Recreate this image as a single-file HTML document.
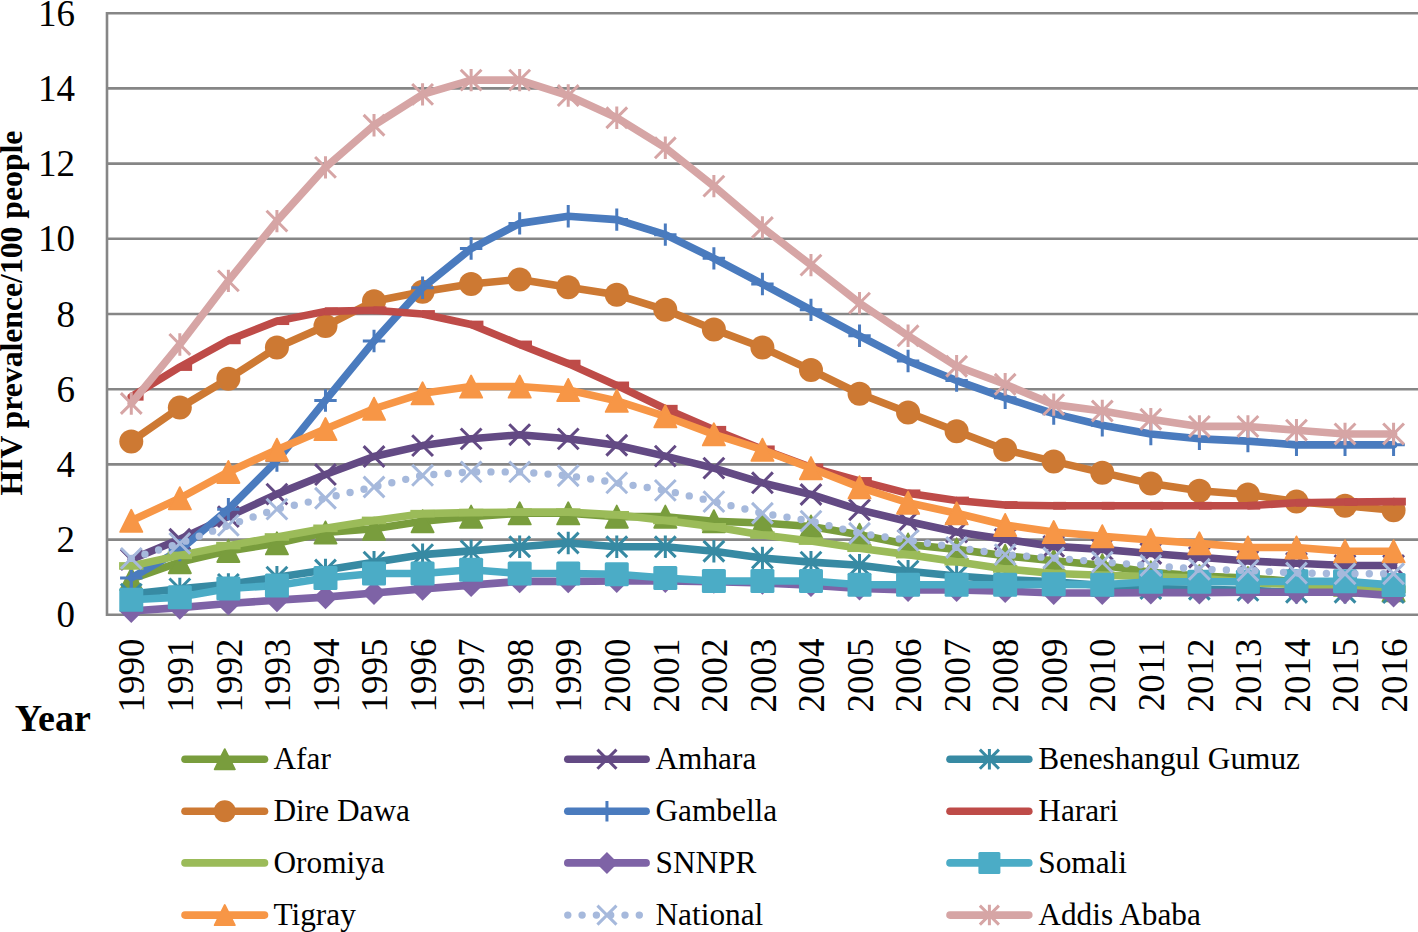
<!DOCTYPE html>
<html><head><meta charset="utf-8"><style>
html,body{margin:0;padding:0;background:#fff;}
body{width:1418px;height:932px;overflow:hidden;}
svg{display:block;}
.ax{font-family:"Liberation Serif",serif;font-size:37px;fill:#000;}
.lg{font-family:"Liberation Serif",serif;font-size:31.3px;fill:#000;}
.ti{font-family:"Liberation Serif",serif;font-weight:bold;fill:#000;}
</style></head><body>
<svg width="1418" height="932" viewBox="0 0 1418 932">
<rect width="1418" height="932" fill="#fff"/>
<line x1="107.0" y1="614.80" x2="1420" y2="614.80" stroke="#868686" stroke-width="2.6"/>
<line x1="107.0" y1="539.60" x2="1420" y2="539.60" stroke="#868686" stroke-width="2.6"/>
<line x1="107.0" y1="464.40" x2="1420" y2="464.40" stroke="#868686" stroke-width="2.6"/>
<line x1="107.0" y1="389.20" x2="1420" y2="389.20" stroke="#868686" stroke-width="2.6"/>
<line x1="107.0" y1="314.00" x2="1420" y2="314.00" stroke="#868686" stroke-width="2.6"/>
<line x1="107.0" y1="238.80" x2="1420" y2="238.80" stroke="#868686" stroke-width="2.6"/>
<line x1="107.0" y1="163.60" x2="1420" y2="163.60" stroke="#868686" stroke-width="2.6"/>
<line x1="107.0" y1="88.40" x2="1420" y2="88.40" stroke="#868686" stroke-width="2.6"/>
<line x1="107.0" y1="13.20" x2="1420" y2="13.20" stroke="#868686" stroke-width="2.6"/>
<line x1="107.00" y1="11.90" x2="107.00" y2="616.10" stroke="#868686" stroke-width="2.6"/>
<polyline points="131.28,579.08 179.82,562.16 228.38,550.88 276.92,543.36 325.48,532.46 374.02,528.70 422.57,521.18 471.12,516.66 519.67,513.28 568.22,513.28 616.77,516.66 665.32,516.66 713.88,521.18 762.42,523.06 810.97,526.44 859.52,534.71 908.07,544.49 956.62,549.38 1005.17,555.77 1053.72,560.66 1102.28,565.17 1150.83,572.31 1199.38,576.07 1247.92,577.95 1296.47,581.71 1345.02,584.72 1393.57,590.36" fill="none" stroke="#799D3D" stroke-width="7.6" stroke-linecap="round" stroke-linejoin="round"/>
<path d="M131.28,567.98L142.38,590.18L120.18,590.18Z" fill="#799D3D" stroke="#799D3D" stroke-width="1.8" stroke-linejoin="round"/>
<path d="M179.82,551.06L190.92,573.26L168.72,573.26Z" fill="#799D3D" stroke="#799D3D" stroke-width="1.8" stroke-linejoin="round"/>
<path d="M228.38,539.78L239.47,561.98L217.28,561.98Z" fill="#799D3D" stroke="#799D3D" stroke-width="1.8" stroke-linejoin="round"/>
<path d="M276.92,532.26L288.02,554.46L265.82,554.46Z" fill="#799D3D" stroke="#799D3D" stroke-width="1.8" stroke-linejoin="round"/>
<path d="M325.48,521.36L336.58,543.56L314.38,543.56Z" fill="#799D3D" stroke="#799D3D" stroke-width="1.8" stroke-linejoin="round"/>
<path d="M374.02,517.60L385.12,539.80L362.92,539.80Z" fill="#799D3D" stroke="#799D3D" stroke-width="1.8" stroke-linejoin="round"/>
<path d="M422.57,510.08L433.68,532.28L411.47,532.28Z" fill="#799D3D" stroke="#799D3D" stroke-width="1.8" stroke-linejoin="round"/>
<path d="M471.12,505.56L482.23,527.76L460.02,527.76Z" fill="#799D3D" stroke="#799D3D" stroke-width="1.8" stroke-linejoin="round"/>
<path d="M519.67,502.18L530.77,524.38L508.57,524.38Z" fill="#799D3D" stroke="#799D3D" stroke-width="1.8" stroke-linejoin="round"/>
<path d="M568.22,502.18L579.32,524.38L557.12,524.38Z" fill="#799D3D" stroke="#799D3D" stroke-width="1.8" stroke-linejoin="round"/>
<path d="M616.77,505.56L627.88,527.76L605.67,527.76Z" fill="#799D3D" stroke="#799D3D" stroke-width="1.8" stroke-linejoin="round"/>
<path d="M665.32,505.56L676.42,527.76L654.22,527.76Z" fill="#799D3D" stroke="#799D3D" stroke-width="1.8" stroke-linejoin="round"/>
<path d="M713.88,510.08L724.98,532.28L702.77,532.28Z" fill="#799D3D" stroke="#799D3D" stroke-width="1.8" stroke-linejoin="round"/>
<path d="M762.42,511.96L773.52,534.16L751.32,534.16Z" fill="#799D3D" stroke="#799D3D" stroke-width="1.8" stroke-linejoin="round"/>
<path d="M810.97,515.34L822.07,537.54L799.87,537.54Z" fill="#799D3D" stroke="#799D3D" stroke-width="1.8" stroke-linejoin="round"/>
<path d="M859.52,523.61L870.62,545.81L848.42,545.81Z" fill="#799D3D" stroke="#799D3D" stroke-width="1.8" stroke-linejoin="round"/>
<path d="M908.07,533.39L919.17,555.59L896.97,555.59Z" fill="#799D3D" stroke="#799D3D" stroke-width="1.8" stroke-linejoin="round"/>
<path d="M956.62,538.28L967.73,560.48L945.52,560.48Z" fill="#799D3D" stroke="#799D3D" stroke-width="1.8" stroke-linejoin="round"/>
<path d="M1005.17,544.67L1016.27,566.87L994.07,566.87Z" fill="#799D3D" stroke="#799D3D" stroke-width="1.8" stroke-linejoin="round"/>
<path d="M1053.72,549.56L1064.82,571.76L1042.62,571.76Z" fill="#799D3D" stroke="#799D3D" stroke-width="1.8" stroke-linejoin="round"/>
<path d="M1102.28,554.07L1113.38,576.27L1091.18,576.27Z" fill="#799D3D" stroke="#799D3D" stroke-width="1.8" stroke-linejoin="round"/>
<path d="M1150.83,561.21L1161.92,583.41L1139.73,583.41Z" fill="#799D3D" stroke="#799D3D" stroke-width="1.8" stroke-linejoin="round"/>
<path d="M1199.38,564.97L1210.47,587.17L1188.28,587.17Z" fill="#799D3D" stroke="#799D3D" stroke-width="1.8" stroke-linejoin="round"/>
<path d="M1247.92,566.85L1259.02,589.05L1236.83,589.05Z" fill="#799D3D" stroke="#799D3D" stroke-width="1.8" stroke-linejoin="round"/>
<path d="M1296.47,570.61L1307.57,592.81L1285.38,592.81Z" fill="#799D3D" stroke="#799D3D" stroke-width="1.8" stroke-linejoin="round"/>
<path d="M1345.02,573.62L1356.12,595.82L1333.92,595.82Z" fill="#799D3D" stroke="#799D3D" stroke-width="1.8" stroke-linejoin="round"/>
<path d="M1393.57,579.26L1404.67,601.46L1382.47,601.46Z" fill="#799D3D" stroke="#799D3D" stroke-width="1.8" stroke-linejoin="round"/>
<polyline points="131.28,559.53 179.82,539.22 228.38,516.66 276.92,494.10 325.48,474.55 374.02,456.50 422.57,445.60 471.12,438.83 519.67,434.70 568.22,438.83 616.77,445.22 665.32,456.13 713.88,468.16 762.42,482.82 810.97,494.48 859.52,509.90 908.07,521.55 956.62,532.08 1005.17,539.22 1053.72,546.37 1102.28,549.38 1150.83,553.51 1199.38,557.27 1247.92,561.03 1296.47,563.29 1345.02,565.54 1393.57,565.54" fill="none" stroke="#634A84" stroke-width="7.6" stroke-linecap="round" stroke-linejoin="round"/>
<path d="M120.88,549.14L141.67,569.92M141.67,549.14L120.88,569.92" stroke="#634A84" stroke-width="3.0" fill="none"/>
<path d="M169.43,528.83L190.22,549.62M190.22,528.83L169.43,549.62" stroke="#634A84" stroke-width="3.0" fill="none"/>
<path d="M217.98,506.27L238.77,527.06M238.77,506.27L217.98,527.06" stroke="#634A84" stroke-width="3.0" fill="none"/>
<path d="M266.53,483.71L287.32,504.50M287.32,483.71L266.53,504.50" stroke="#634A84" stroke-width="3.0" fill="none"/>
<path d="M315.08,464.16L335.87,484.94M335.87,464.16L315.08,484.94" stroke="#634A84" stroke-width="3.0" fill="none"/>
<path d="M363.63,446.11L384.42,466.90M384.42,446.11L363.63,466.90" stroke="#634A84" stroke-width="3.0" fill="none"/>
<path d="M412.18,435.21L432.97,455.99M432.97,435.21L412.18,455.99" stroke="#634A84" stroke-width="3.0" fill="none"/>
<path d="M460.73,428.44L481.52,449.22M481.52,428.44L460.73,449.22" stroke="#634A84" stroke-width="3.0" fill="none"/>
<path d="M509.28,424.30L530.07,445.09M530.07,424.30L509.28,445.09" stroke="#634A84" stroke-width="3.0" fill="none"/>
<path d="M557.83,428.44L578.62,449.22M578.62,428.44L557.83,449.22" stroke="#634A84" stroke-width="3.0" fill="none"/>
<path d="M606.38,434.83L627.17,455.62M627.17,434.83L606.38,455.62" stroke="#634A84" stroke-width="3.0" fill="none"/>
<path d="M654.93,445.74L675.72,466.52M675.72,445.74L654.93,466.52" stroke="#634A84" stroke-width="3.0" fill="none"/>
<path d="M703.48,457.77L724.27,478.55M724.27,457.77L703.48,478.55" stroke="#634A84" stroke-width="3.0" fill="none"/>
<path d="M752.03,472.43L772.82,493.22M772.82,472.43L752.03,493.22" stroke="#634A84" stroke-width="3.0" fill="none"/>
<path d="M800.58,484.09L821.37,504.87M821.37,484.09L800.58,504.87" stroke="#634A84" stroke-width="3.0" fill="none"/>
<path d="M849.13,499.50L869.92,520.29M869.92,499.50L849.13,520.29" stroke="#634A84" stroke-width="3.0" fill="none"/>
<path d="M897.68,511.16L918.47,531.94M918.47,511.16L897.68,531.94" stroke="#634A84" stroke-width="3.0" fill="none"/>
<path d="M946.23,521.69L967.02,542.47M967.02,521.69L946.23,542.47" stroke="#634A84" stroke-width="3.0" fill="none"/>
<path d="M994.78,528.83L1015.57,549.62M1015.57,528.83L994.78,549.62" stroke="#634A84" stroke-width="3.0" fill="none"/>
<path d="M1043.33,535.98L1064.12,556.76M1064.12,535.98L1043.33,556.76" stroke="#634A84" stroke-width="3.0" fill="none"/>
<path d="M1091.88,538.98L1112.67,559.77M1112.67,538.98L1091.88,559.77" stroke="#634A84" stroke-width="3.0" fill="none"/>
<path d="M1140.43,543.12L1161.22,563.90M1161.22,543.12L1140.43,563.90" stroke="#634A84" stroke-width="3.0" fill="none"/>
<path d="M1188.98,546.88L1209.77,567.66M1209.77,546.88L1188.98,567.66" stroke="#634A84" stroke-width="3.0" fill="none"/>
<path d="M1237.53,550.64L1258.32,571.42M1258.32,550.64L1237.53,571.42" stroke="#634A84" stroke-width="3.0" fill="none"/>
<path d="M1286.08,552.90L1306.87,573.68M1306.87,552.90L1286.08,573.68" stroke="#634A84" stroke-width="3.0" fill="none"/>
<path d="M1334.63,555.15L1355.42,575.94M1355.42,555.15L1334.63,575.94" stroke="#634A84" stroke-width="3.0" fill="none"/>
<path d="M1383.18,555.15L1403.97,575.94M1403.97,555.15L1383.18,575.94" stroke="#634A84" stroke-width="3.0" fill="none"/>
<polyline points="131.28,594.12 179.82,588.86 228.38,584.34 276.92,577.20 325.48,570.06 374.02,562.16 422.57,554.64 471.12,550.88 519.67,546.74 568.22,542.98 616.77,546.74 665.32,546.74 713.88,551.26 762.42,558.02 810.97,562.16 859.52,565.17 908.07,571.18 956.62,576.07 1005.17,579.46 1053.72,581.71 1102.28,585.47 1150.83,588.48 1199.38,589.23 1247.92,590.36 1296.47,592.24 1345.02,592.24 1393.57,592.62" fill="none" stroke="#378AA3" stroke-width="7.6" stroke-linecap="round" stroke-linejoin="round"/>
<path d="M120.88,583.73L141.67,604.51M141.67,583.73L120.88,604.51M131.28,582.91L131.28,605.33" stroke="#378AA3" stroke-width="3.0" fill="none"/>
<path d="M169.43,578.46L190.22,599.25M190.22,578.46L169.43,599.25M179.82,577.65L179.82,600.06" stroke="#378AA3" stroke-width="3.0" fill="none"/>
<path d="M217.98,573.95L238.77,594.74M238.77,573.95L217.98,594.74M228.38,573.14L228.38,595.55" stroke="#378AA3" stroke-width="3.0" fill="none"/>
<path d="M266.53,566.81L287.32,587.59M287.32,566.81L266.53,587.59M276.92,565.99L276.92,588.41" stroke="#378AA3" stroke-width="3.0" fill="none"/>
<path d="M315.08,559.66L335.87,580.45M335.87,559.66L315.08,580.45M325.48,558.85L325.48,581.26" stroke="#378AA3" stroke-width="3.0" fill="none"/>
<path d="M363.63,551.77L384.42,572.55M384.42,551.77L363.63,572.55M374.02,550.95L374.02,573.37" stroke="#378AA3" stroke-width="3.0" fill="none"/>
<path d="M412.18,544.25L432.97,565.03M432.97,544.25L412.18,565.03M422.57,543.43L422.57,565.85" stroke="#378AA3" stroke-width="3.0" fill="none"/>
<path d="M460.73,540.49L481.52,561.27M481.52,540.49L460.73,561.27M471.12,539.67L471.12,562.09" stroke="#378AA3" stroke-width="3.0" fill="none"/>
<path d="M509.28,536.35L530.07,557.14M530.07,536.35L509.28,557.14M519.67,535.54L519.67,557.95" stroke="#378AA3" stroke-width="3.0" fill="none"/>
<path d="M557.83,532.59L578.62,553.38M578.62,532.59L557.83,553.38M568.22,531.78L568.22,554.19" stroke="#378AA3" stroke-width="3.0" fill="none"/>
<path d="M606.38,536.35L627.17,557.14M627.17,536.35L606.38,557.14M616.77,535.54L616.77,557.95" stroke="#378AA3" stroke-width="3.0" fill="none"/>
<path d="M654.93,536.35L675.72,557.14M675.72,536.35L654.93,557.14M665.32,535.54L665.32,557.95" stroke="#378AA3" stroke-width="3.0" fill="none"/>
<path d="M703.48,540.86L724.27,561.65M724.27,540.86L703.48,561.65M713.88,540.05L713.88,562.46" stroke="#378AA3" stroke-width="3.0" fill="none"/>
<path d="M752.03,547.63L772.82,568.42M772.82,547.63L752.03,568.42M762.42,546.82L762.42,569.23" stroke="#378AA3" stroke-width="3.0" fill="none"/>
<path d="M800.58,551.77L821.37,572.55M821.37,551.77L800.58,572.55M810.97,550.95L810.97,573.37" stroke="#378AA3" stroke-width="3.0" fill="none"/>
<path d="M849.13,554.78L869.92,575.56M869.92,554.78L849.13,575.56M859.52,553.96L859.52,576.38" stroke="#378AA3" stroke-width="3.0" fill="none"/>
<path d="M897.68,560.79L918.47,581.58M918.47,560.79L897.68,581.58M908.07,559.98L908.07,582.39" stroke="#378AA3" stroke-width="3.0" fill="none"/>
<path d="M946.23,565.68L967.02,586.46M967.02,565.68L946.23,586.46M956.62,564.86L956.62,587.28" stroke="#378AA3" stroke-width="3.0" fill="none"/>
<path d="M994.78,569.06L1015.57,589.85M1015.57,569.06L994.78,589.85M1005.17,568.25L1005.17,590.66" stroke="#378AA3" stroke-width="3.0" fill="none"/>
<path d="M1043.33,571.32L1064.12,592.10M1064.12,571.32L1043.33,592.10M1053.72,570.50L1053.72,592.92" stroke="#378AA3" stroke-width="3.0" fill="none"/>
<path d="M1091.88,575.08L1112.67,595.86M1112.67,575.08L1091.88,595.86M1102.28,574.26L1102.28,596.68" stroke="#378AA3" stroke-width="3.0" fill="none"/>
<path d="M1140.43,578.09L1161.22,598.87M1161.22,578.09L1140.43,598.87M1150.83,577.27L1150.83,599.69" stroke="#378AA3" stroke-width="3.0" fill="none"/>
<path d="M1188.98,578.84L1209.77,599.62M1209.77,578.84L1188.98,599.62M1199.38,578.02L1199.38,600.44" stroke="#378AA3" stroke-width="3.0" fill="none"/>
<path d="M1237.53,579.97L1258.32,600.75M1258.32,579.97L1237.53,600.75M1247.92,579.15L1247.92,601.57" stroke="#378AA3" stroke-width="3.0" fill="none"/>
<path d="M1286.08,581.85L1306.87,602.63M1306.87,581.85L1286.08,602.63M1296.47,581.03L1296.47,603.45" stroke="#378AA3" stroke-width="3.0" fill="none"/>
<path d="M1334.63,581.85L1355.42,602.63M1355.42,581.85L1334.63,602.63M1345.02,581.03L1345.02,603.45" stroke="#378AA3" stroke-width="3.0" fill="none"/>
<path d="M1383.18,582.22L1403.97,603.01M1403.97,582.22L1383.18,603.01M1393.57,581.41L1393.57,603.82" stroke="#378AA3" stroke-width="3.0" fill="none"/>
<polyline points="131.28,441.46 179.82,407.62 228.38,378.67 276.92,347.46 325.48,326.03 374.02,301.22 422.57,291.82 471.12,283.92 519.67,279.41 568.22,287.30 616.77,294.82 665.32,309.86 713.88,329.42 762.42,347.46 810.97,370.02 859.52,393.71 908.07,412.51 956.62,431.31 1005.17,449.74 1053.72,461.39 1102.28,472.67 1150.83,483.58 1199.38,490.72 1247.92,494.48 1296.47,501.62 1345.02,505.76 1393.57,510.27" fill="none" stroke="#CD7933" stroke-width="7.6" stroke-linecap="round" stroke-linejoin="round"/>
<circle cx="131.28" cy="441.46" r="12.00" fill="#CD7933"/>
<circle cx="179.82" cy="407.62" r="12.00" fill="#CD7933"/>
<circle cx="228.38" cy="378.67" r="12.00" fill="#CD7933"/>
<circle cx="276.92" cy="347.46" r="12.00" fill="#CD7933"/>
<circle cx="325.48" cy="326.03" r="12.00" fill="#CD7933"/>
<circle cx="374.02" cy="301.22" r="12.00" fill="#CD7933"/>
<circle cx="422.57" cy="291.82" r="12.00" fill="#CD7933"/>
<circle cx="471.12" cy="283.92" r="12.00" fill="#CD7933"/>
<circle cx="519.67" cy="279.41" r="12.00" fill="#CD7933"/>
<circle cx="568.22" cy="287.30" r="12.00" fill="#CD7933"/>
<circle cx="616.77" cy="294.82" r="12.00" fill="#CD7933"/>
<circle cx="665.32" cy="309.86" r="12.00" fill="#CD7933"/>
<circle cx="713.88" cy="329.42" r="12.00" fill="#CD7933"/>
<circle cx="762.42" cy="347.46" r="12.00" fill="#CD7933"/>
<circle cx="810.97" cy="370.02" r="12.00" fill="#CD7933"/>
<circle cx="859.52" cy="393.71" r="12.00" fill="#CD7933"/>
<circle cx="908.07" cy="412.51" r="12.00" fill="#CD7933"/>
<circle cx="956.62" cy="431.31" r="12.00" fill="#CD7933"/>
<circle cx="1005.17" cy="449.74" r="12.00" fill="#CD7933"/>
<circle cx="1053.72" cy="461.39" r="12.00" fill="#CD7933"/>
<circle cx="1102.28" cy="472.67" r="12.00" fill="#CD7933"/>
<circle cx="1150.83" cy="483.58" r="12.00" fill="#CD7933"/>
<circle cx="1199.38" cy="490.72" r="12.00" fill="#CD7933"/>
<circle cx="1247.92" cy="494.48" r="12.00" fill="#CD7933"/>
<circle cx="1296.47" cy="501.62" r="12.00" fill="#CD7933"/>
<circle cx="1345.02" cy="505.76" r="12.00" fill="#CD7933"/>
<circle cx="1393.57" cy="510.27" r="12.00" fill="#CD7933"/>
<polyline points="131.28,577.95 179.82,550.13 228.38,509.14 276.92,460.64 325.48,400.48 374.02,341.07 422.57,287.68 471.12,248.58 519.67,223.38 568.22,216.24 616.77,219.62 665.32,234.66 713.88,258.35 762.42,283.92 810.97,309.86 859.52,335.81 908.07,361.00 956.62,380.55 1005.17,397.85 1053.72,413.64 1102.28,425.30 1150.83,433.94 1199.38,438.83 1247.92,441.09 1296.47,444.85 1345.02,444.85 1393.57,444.85" fill="none" stroke="#4A7BBE" stroke-width="7.6" stroke-linecap="round" stroke-linejoin="round"/>
<path d="M131.28,566.74L131.28,589.16M120.07,577.95L142.48,577.95" stroke="#4A7BBE" stroke-width="3.0" fill="none"/>
<path d="M179.82,538.92L179.82,561.34M168.62,550.13L191.03,550.13" stroke="#4A7BBE" stroke-width="3.0" fill="none"/>
<path d="M228.38,497.94L228.38,520.35M217.17,509.14L239.58,509.14" stroke="#4A7BBE" stroke-width="3.0" fill="none"/>
<path d="M276.92,449.43L276.92,471.85M265.72,460.64L288.13,460.64" stroke="#4A7BBE" stroke-width="3.0" fill="none"/>
<path d="M325.48,389.27L325.48,411.69M314.27,400.48L336.68,400.48" stroke="#4A7BBE" stroke-width="3.0" fill="none"/>
<path d="M374.02,329.86L374.02,352.28M362.82,341.07L385.23,341.07" stroke="#4A7BBE" stroke-width="3.0" fill="none"/>
<path d="M422.57,276.47L422.57,298.89M411.37,287.68L433.78,287.68" stroke="#4A7BBE" stroke-width="3.0" fill="none"/>
<path d="M471.12,237.37L471.12,259.78M459.92,248.58L482.33,248.58" stroke="#4A7BBE" stroke-width="3.0" fill="none"/>
<path d="M519.67,212.18L519.67,234.59M508.47,223.38L530.88,223.38" stroke="#4A7BBE" stroke-width="3.0" fill="none"/>
<path d="M568.22,205.03L568.22,227.45M557.02,216.24L579.43,216.24" stroke="#4A7BBE" stroke-width="3.0" fill="none"/>
<path d="M616.77,208.42L616.77,230.83M605.57,219.62L627.98,219.62" stroke="#4A7BBE" stroke-width="3.0" fill="none"/>
<path d="M665.32,223.46L665.32,245.87M654.12,234.66L676.53,234.66" stroke="#4A7BBE" stroke-width="3.0" fill="none"/>
<path d="M713.88,247.14L713.88,269.56M702.67,258.35L725.08,258.35" stroke="#4A7BBE" stroke-width="3.0" fill="none"/>
<path d="M762.42,272.71L762.42,295.13M751.22,283.92L773.63,283.92" stroke="#4A7BBE" stroke-width="3.0" fill="none"/>
<path d="M810.97,298.66L810.97,321.07M799.77,309.86L822.18,309.86" stroke="#4A7BBE" stroke-width="3.0" fill="none"/>
<path d="M859.52,324.60L859.52,347.02M848.32,335.81L870.73,335.81" stroke="#4A7BBE" stroke-width="3.0" fill="none"/>
<path d="M908.07,349.79L908.07,372.21M896.87,361.00L919.28,361.00" stroke="#4A7BBE" stroke-width="3.0" fill="none"/>
<path d="M956.62,369.34L956.62,391.76M945.42,380.55L967.83,380.55" stroke="#4A7BBE" stroke-width="3.0" fill="none"/>
<path d="M1005.17,386.64L1005.17,409.06M993.97,397.85L1016.38,397.85" stroke="#4A7BBE" stroke-width="3.0" fill="none"/>
<path d="M1053.72,402.43L1053.72,424.85M1042.52,413.64L1064.93,413.64" stroke="#4A7BBE" stroke-width="3.0" fill="none"/>
<path d="M1102.28,414.09L1102.28,436.50M1091.07,425.30L1113.48,425.30" stroke="#4A7BBE" stroke-width="3.0" fill="none"/>
<path d="M1150.83,422.74L1150.83,445.15M1139.62,433.94L1162.03,433.94" stroke="#4A7BBE" stroke-width="3.0" fill="none"/>
<path d="M1199.38,427.62L1199.38,450.04M1188.17,438.83L1210.58,438.83" stroke="#4A7BBE" stroke-width="3.0" fill="none"/>
<path d="M1247.92,429.88L1247.92,452.30M1236.72,441.09L1259.13,441.09" stroke="#4A7BBE" stroke-width="3.0" fill="none"/>
<path d="M1296.47,433.64L1296.47,456.06M1285.27,444.85L1307.68,444.85" stroke="#4A7BBE" stroke-width="3.0" fill="none"/>
<path d="M1345.02,433.64L1345.02,456.06M1333.82,444.85L1356.23,444.85" stroke="#4A7BBE" stroke-width="3.0" fill="none"/>
<path d="M1393.57,433.64L1393.57,456.06M1382.37,444.85L1404.78,444.85" stroke="#4A7BBE" stroke-width="3.0" fill="none"/>
<polyline points="131.28,396.72 179.82,367.02 228.38,340.32 276.92,321.14 325.48,311.37 374.02,310.24 422.57,314.00 471.12,324.53 519.67,344.46 568.22,363.63 616.77,385.44 665.32,408.75 713.88,429.81 762.42,449.36 810.97,467.41 859.52,480.94 908.07,493.35 956.62,500.50 1005.17,505.01 1053.72,505.76 1102.28,505.76 1150.83,505.76 1199.38,505.76 1247.92,505.76 1296.47,502.75 1345.02,502.00 1393.57,501.62" fill="none" stroke="#BE4B48" stroke-width="7.6" stroke-linecap="round" stroke-linejoin="round"/>
<rect x="130.78" y="392.82" width="12.8" height="7.8" fill="#BE4B48"/>
<rect x="179.32" y="363.12" width="12.8" height="7.8" fill="#BE4B48"/>
<rect x="227.88" y="336.42" width="12.8" height="7.8" fill="#BE4B48"/>
<rect x="276.42" y="317.24" width="12.8" height="7.8" fill="#BE4B48"/>
<rect x="324.98" y="307.47" width="12.8" height="7.8" fill="#BE4B48"/>
<rect x="373.52" y="306.34" width="12.8" height="7.8" fill="#BE4B48"/>
<rect x="422.07" y="310.10" width="12.8" height="7.8" fill="#BE4B48"/>
<rect x="470.62" y="320.63" width="12.8" height="7.8" fill="#BE4B48"/>
<rect x="519.17" y="340.56" width="12.8" height="7.8" fill="#BE4B48"/>
<rect x="567.72" y="359.73" width="12.8" height="7.8" fill="#BE4B48"/>
<rect x="616.27" y="381.54" width="12.8" height="7.8" fill="#BE4B48"/>
<rect x="664.82" y="404.85" width="12.8" height="7.8" fill="#BE4B48"/>
<rect x="713.38" y="425.91" width="12.8" height="7.8" fill="#BE4B48"/>
<rect x="761.92" y="445.46" width="12.8" height="7.8" fill="#BE4B48"/>
<rect x="810.47" y="463.51" width="12.8" height="7.8" fill="#BE4B48"/>
<rect x="859.02" y="477.04" width="12.8" height="7.8" fill="#BE4B48"/>
<rect x="907.57" y="489.45" width="12.8" height="7.8" fill="#BE4B48"/>
<rect x="956.12" y="496.60" width="12.8" height="7.8" fill="#BE4B48"/>
<rect x="1004.67" y="501.11" width="12.8" height="7.8" fill="#BE4B48"/>
<rect x="1053.22" y="501.86" width="12.8" height="7.8" fill="#BE4B48"/>
<rect x="1101.78" y="501.86" width="12.8" height="7.8" fill="#BE4B48"/>
<rect x="1150.33" y="501.86" width="12.8" height="7.8" fill="#BE4B48"/>
<rect x="1198.88" y="501.86" width="12.8" height="7.8" fill="#BE4B48"/>
<rect x="1247.42" y="501.86" width="12.8" height="7.8" fill="#BE4B48"/>
<rect x="1295.97" y="498.85" width="12.8" height="7.8" fill="#BE4B48"/>
<rect x="1344.52" y="498.10" width="12.8" height="7.8" fill="#BE4B48"/>
<rect x="1393.07" y="497.72" width="12.8" height="7.8" fill="#BE4B48"/>
<polyline points="131.28,565.92 179.82,555.39 228.38,545.62 276.92,536.97 325.48,528.32 374.02,520.42 422.57,513.66 471.12,512.53 519.67,512.15 568.22,512.15 616.77,514.78 665.32,520.42 713.88,526.82 762.42,535.09 810.97,541.10 859.52,548.25 908.07,554.64 956.62,561.78 1005.17,568.93 1053.72,573.44 1102.28,575.32 1150.83,576.45 1199.38,577.95 1247.92,582.46 1296.47,584.72 1345.02,586.98 1393.57,589.23" fill="none" stroke="#9BBB59" stroke-width="7.6" stroke-linecap="round" stroke-linejoin="round"/>
<rect x="119.08" y="562.12" width="24.4" height="7.6" fill="#9BBB59"/>
<rect x="167.62" y="551.59" width="24.4" height="7.6" fill="#9BBB59"/>
<rect x="216.18" y="541.82" width="24.4" height="7.6" fill="#9BBB59"/>
<rect x="264.72" y="533.17" width="24.4" height="7.6" fill="#9BBB59"/>
<rect x="313.28" y="524.52" width="24.4" height="7.6" fill="#9BBB59"/>
<rect x="361.82" y="516.62" width="24.4" height="7.6" fill="#9BBB59"/>
<rect x="410.38" y="509.86" width="24.4" height="7.6" fill="#9BBB59"/>
<rect x="458.93" y="508.73" width="24.4" height="7.6" fill="#9BBB59"/>
<rect x="507.47" y="508.35" width="24.4" height="7.6" fill="#9BBB59"/>
<rect x="556.02" y="508.35" width="24.4" height="7.6" fill="#9BBB59"/>
<rect x="604.57" y="510.98" width="24.4" height="7.6" fill="#9BBB59"/>
<rect x="653.12" y="516.62" width="24.4" height="7.6" fill="#9BBB59"/>
<rect x="701.67" y="523.02" width="24.4" height="7.6" fill="#9BBB59"/>
<rect x="750.22" y="531.29" width="24.4" height="7.6" fill="#9BBB59"/>
<rect x="798.77" y="537.30" width="24.4" height="7.6" fill="#9BBB59"/>
<rect x="847.32" y="544.45" width="24.4" height="7.6" fill="#9BBB59"/>
<rect x="895.87" y="550.84" width="24.4" height="7.6" fill="#9BBB59"/>
<rect x="944.42" y="557.98" width="24.4" height="7.6" fill="#9BBB59"/>
<rect x="992.97" y="565.13" width="24.4" height="7.6" fill="#9BBB59"/>
<rect x="1041.52" y="569.64" width="24.4" height="7.6" fill="#9BBB59"/>
<rect x="1090.08" y="571.52" width="24.4" height="7.6" fill="#9BBB59"/>
<rect x="1138.62" y="572.65" width="24.4" height="7.6" fill="#9BBB59"/>
<rect x="1187.17" y="574.15" width="24.4" height="7.6" fill="#9BBB59"/>
<rect x="1235.72" y="578.66" width="24.4" height="7.6" fill="#9BBB59"/>
<rect x="1284.27" y="580.92" width="24.4" height="7.6" fill="#9BBB59"/>
<rect x="1332.82" y="583.18" width="24.4" height="7.6" fill="#9BBB59"/>
<rect x="1381.37" y="585.43" width="24.4" height="7.6" fill="#9BBB59"/>
<polyline points="131.28,611.04 179.82,607.66 228.38,603.52 276.92,600.14 325.48,597.13 374.02,592.99 422.57,588.86 471.12,585.10 519.67,581.34 568.22,581.34 616.77,580.96 665.32,580.96 713.88,581.71 762.42,582.84 810.97,585.10 859.52,588.48 908.07,589.98 956.62,589.98 1005.17,591.11 1053.72,592.99 1102.28,592.99 1150.83,592.62 1199.38,592.62 1247.92,592.24 1296.47,592.24 1345.02,592.24 1393.57,595.62" fill="none" stroke="#7E63A6" stroke-width="7.6" stroke-linecap="round" stroke-linejoin="round"/>
<path d="M131.28,599.04L143.28,611.04L131.28,623.04L119.28,611.04Z" fill="#7E63A6"/>
<path d="M179.82,595.66L191.82,607.66L179.82,619.66L167.82,607.66Z" fill="#7E63A6"/>
<path d="M228.38,591.52L240.38,603.52L228.38,615.52L216.38,603.52Z" fill="#7E63A6"/>
<path d="M276.92,588.14L288.92,600.14L276.92,612.14L264.92,600.14Z" fill="#7E63A6"/>
<path d="M325.48,585.13L337.48,597.13L325.48,609.13L313.48,597.13Z" fill="#7E63A6"/>
<path d="M374.02,580.99L386.02,592.99L374.02,604.99L362.02,592.99Z" fill="#7E63A6"/>
<path d="M422.57,576.86L434.57,588.86L422.57,600.86L410.57,588.86Z" fill="#7E63A6"/>
<path d="M471.12,573.10L483.12,585.10L471.12,597.10L459.12,585.10Z" fill="#7E63A6"/>
<path d="M519.67,569.34L531.67,581.34L519.67,593.34L507.67,581.34Z" fill="#7E63A6"/>
<path d="M568.22,569.34L580.22,581.34L568.22,593.34L556.22,581.34Z" fill="#7E63A6"/>
<path d="M616.77,568.96L628.77,580.96L616.77,592.96L604.77,580.96Z" fill="#7E63A6"/>
<path d="M665.32,568.96L677.32,580.96L665.32,592.96L653.32,580.96Z" fill="#7E63A6"/>
<path d="M713.88,569.71L725.88,581.71L713.88,593.71L701.88,581.71Z" fill="#7E63A6"/>
<path d="M762.42,570.84L774.42,582.84L762.42,594.84L750.42,582.84Z" fill="#7E63A6"/>
<path d="M810.97,573.10L822.97,585.10L810.97,597.10L798.97,585.10Z" fill="#7E63A6"/>
<path d="M859.52,576.48L871.52,588.48L859.52,600.48L847.52,588.48Z" fill="#7E63A6"/>
<path d="M908.07,577.98L920.07,589.98L908.07,601.98L896.07,589.98Z" fill="#7E63A6"/>
<path d="M956.62,577.98L968.62,589.98L956.62,601.98L944.62,589.98Z" fill="#7E63A6"/>
<path d="M1005.17,579.11L1017.17,591.11L1005.17,603.11L993.17,591.11Z" fill="#7E63A6"/>
<path d="M1053.72,580.99L1065.72,592.99L1053.72,604.99L1041.72,592.99Z" fill="#7E63A6"/>
<path d="M1102.28,580.99L1114.28,592.99L1102.28,604.99L1090.28,592.99Z" fill="#7E63A6"/>
<path d="M1150.83,580.62L1162.83,592.62L1150.83,604.62L1138.83,592.62Z" fill="#7E63A6"/>
<path d="M1199.38,580.62L1211.38,592.62L1199.38,604.62L1187.38,592.62Z" fill="#7E63A6"/>
<path d="M1247.92,580.24L1259.92,592.24L1247.92,604.24L1235.92,592.24Z" fill="#7E63A6"/>
<path d="M1296.47,580.24L1308.47,592.24L1296.47,604.24L1284.47,592.24Z" fill="#7E63A6"/>
<path d="M1345.02,580.24L1357.02,592.24L1345.02,604.24L1333.02,592.24Z" fill="#7E63A6"/>
<path d="M1393.57,583.62L1405.57,595.62L1393.57,607.62L1381.57,595.62Z" fill="#7E63A6"/>
<polyline points="131.28,599.76 179.82,597.13 228.38,588.48 276.92,585.47 325.48,577.95 374.02,573.44 422.57,573.44 471.12,569.68 519.67,573.44 568.22,573.44 616.77,574.19 665.32,577.95 713.88,580.96 762.42,580.96 810.97,580.96 859.52,584.72 908.07,584.72 956.62,584.72 1005.17,584.72 1053.72,584.34 1102.28,584.72 1150.83,581.71 1199.38,581.71 1247.92,581.71 1296.47,581.34 1345.02,581.34 1393.57,585.10" fill="none" stroke="#4BACC6" stroke-width="7.6" stroke-linecap="round" stroke-linejoin="round"/>
<rect x="119.28" y="587.76" width="24.00" height="24.00" rx="1.5" fill="#4BACC6"/>
<rect x="167.82" y="585.13" width="24.00" height="24.00" rx="1.5" fill="#4BACC6"/>
<rect x="216.38" y="576.48" width="24.00" height="24.00" rx="1.5" fill="#4BACC6"/>
<rect x="264.92" y="573.47" width="24.00" height="24.00" rx="1.5" fill="#4BACC6"/>
<rect x="313.48" y="565.95" width="24.00" height="24.00" rx="1.5" fill="#4BACC6"/>
<rect x="362.02" y="561.44" width="24.00" height="24.00" rx="1.5" fill="#4BACC6"/>
<rect x="410.57" y="561.44" width="24.00" height="24.00" rx="1.5" fill="#4BACC6"/>
<rect x="459.12" y="557.68" width="24.00" height="24.00" rx="1.5" fill="#4BACC6"/>
<rect x="507.67" y="561.44" width="24.00" height="24.00" rx="1.5" fill="#4BACC6"/>
<rect x="556.22" y="561.44" width="24.00" height="24.00" rx="1.5" fill="#4BACC6"/>
<rect x="604.77" y="562.19" width="24.00" height="24.00" rx="1.5" fill="#4BACC6"/>
<rect x="653.32" y="565.95" width="24.00" height="24.00" rx="1.5" fill="#4BACC6"/>
<rect x="701.88" y="568.96" width="24.00" height="24.00" rx="1.5" fill="#4BACC6"/>
<rect x="750.42" y="568.96" width="24.00" height="24.00" rx="1.5" fill="#4BACC6"/>
<rect x="798.97" y="568.96" width="24.00" height="24.00" rx="1.5" fill="#4BACC6"/>
<rect x="847.52" y="572.72" width="24.00" height="24.00" rx="1.5" fill="#4BACC6"/>
<rect x="896.07" y="572.72" width="24.00" height="24.00" rx="1.5" fill="#4BACC6"/>
<rect x="944.62" y="572.72" width="24.00" height="24.00" rx="1.5" fill="#4BACC6"/>
<rect x="993.17" y="572.72" width="24.00" height="24.00" rx="1.5" fill="#4BACC6"/>
<rect x="1041.72" y="572.34" width="24.00" height="24.00" rx="1.5" fill="#4BACC6"/>
<rect x="1090.28" y="572.72" width="24.00" height="24.00" rx="1.5" fill="#4BACC6"/>
<rect x="1138.83" y="569.71" width="24.00" height="24.00" rx="1.5" fill="#4BACC6"/>
<rect x="1187.38" y="569.71" width="24.00" height="24.00" rx="1.5" fill="#4BACC6"/>
<rect x="1235.92" y="569.71" width="24.00" height="24.00" rx="1.5" fill="#4BACC6"/>
<rect x="1284.47" y="569.34" width="24.00" height="24.00" rx="1.5" fill="#4BACC6"/>
<rect x="1333.02" y="569.34" width="24.00" height="24.00" rx="1.5" fill="#4BACC6"/>
<rect x="1381.57" y="573.10" width="24.00" height="24.00" rx="1.5" fill="#4BACC6"/>
<polyline points="131.28,520.80 179.82,498.24 228.38,471.92 276.92,449.74 325.48,429.06 374.02,408.75 422.57,393.34 471.12,386.57 519.67,386.57 568.22,389.95 616.77,400.86 665.32,416.27 713.88,434.32 762.42,449.74 810.97,468.16 859.52,487.34 908.07,502.75 956.62,513.28 1005.17,524.94 1053.72,532.08 1102.28,536.22 1150.83,539.98 1199.38,543.36 1247.92,547.50 1296.47,547.50 1345.02,551.26 1393.57,551.26" fill="none" stroke="#F79646" stroke-width="7.6" stroke-linecap="round" stroke-linejoin="round"/>
<path d="M131.28,509.70L142.38,531.90L120.18,531.90Z" fill="#F79646" stroke="#F79646" stroke-width="1.8" stroke-linejoin="round"/>
<path d="M179.82,487.14L190.92,509.34L168.72,509.34Z" fill="#F79646" stroke="#F79646" stroke-width="1.8" stroke-linejoin="round"/>
<path d="M228.38,460.82L239.47,483.02L217.28,483.02Z" fill="#F79646" stroke="#F79646" stroke-width="1.8" stroke-linejoin="round"/>
<path d="M276.92,438.64L288.02,460.84L265.82,460.84Z" fill="#F79646" stroke="#F79646" stroke-width="1.8" stroke-linejoin="round"/>
<path d="M325.48,417.96L336.58,440.16L314.38,440.16Z" fill="#F79646" stroke="#F79646" stroke-width="1.8" stroke-linejoin="round"/>
<path d="M374.02,397.65L385.12,419.85L362.92,419.85Z" fill="#F79646" stroke="#F79646" stroke-width="1.8" stroke-linejoin="round"/>
<path d="M422.57,382.24L433.68,404.44L411.47,404.44Z" fill="#F79646" stroke="#F79646" stroke-width="1.8" stroke-linejoin="round"/>
<path d="M471.12,375.47L482.23,397.67L460.02,397.67Z" fill="#F79646" stroke="#F79646" stroke-width="1.8" stroke-linejoin="round"/>
<path d="M519.67,375.47L530.77,397.67L508.57,397.67Z" fill="#F79646" stroke="#F79646" stroke-width="1.8" stroke-linejoin="round"/>
<path d="M568.22,378.85L579.32,401.05L557.12,401.05Z" fill="#F79646" stroke="#F79646" stroke-width="1.8" stroke-linejoin="round"/>
<path d="M616.77,389.76L627.88,411.96L605.67,411.96Z" fill="#F79646" stroke="#F79646" stroke-width="1.8" stroke-linejoin="round"/>
<path d="M665.32,405.17L676.42,427.37L654.22,427.37Z" fill="#F79646" stroke="#F79646" stroke-width="1.8" stroke-linejoin="round"/>
<path d="M713.88,423.22L724.98,445.42L702.77,445.42Z" fill="#F79646" stroke="#F79646" stroke-width="1.8" stroke-linejoin="round"/>
<path d="M762.42,438.64L773.52,460.84L751.32,460.84Z" fill="#F79646" stroke="#F79646" stroke-width="1.8" stroke-linejoin="round"/>
<path d="M810.97,457.06L822.07,479.26L799.87,479.26Z" fill="#F79646" stroke="#F79646" stroke-width="1.8" stroke-linejoin="round"/>
<path d="M859.52,476.24L870.62,498.44L848.42,498.44Z" fill="#F79646" stroke="#F79646" stroke-width="1.8" stroke-linejoin="round"/>
<path d="M908.07,491.65L919.17,513.85L896.97,513.85Z" fill="#F79646" stroke="#F79646" stroke-width="1.8" stroke-linejoin="round"/>
<path d="M956.62,502.18L967.73,524.38L945.52,524.38Z" fill="#F79646" stroke="#F79646" stroke-width="1.8" stroke-linejoin="round"/>
<path d="M1005.17,513.84L1016.27,536.04L994.07,536.04Z" fill="#F79646" stroke="#F79646" stroke-width="1.8" stroke-linejoin="round"/>
<path d="M1053.72,520.98L1064.82,543.18L1042.62,543.18Z" fill="#F79646" stroke="#F79646" stroke-width="1.8" stroke-linejoin="round"/>
<path d="M1102.28,525.12L1113.38,547.32L1091.18,547.32Z" fill="#F79646" stroke="#F79646" stroke-width="1.8" stroke-linejoin="round"/>
<path d="M1150.83,528.88L1161.92,551.08L1139.73,551.08Z" fill="#F79646" stroke="#F79646" stroke-width="1.8" stroke-linejoin="round"/>
<path d="M1199.38,532.26L1210.47,554.46L1188.28,554.46Z" fill="#F79646" stroke="#F79646" stroke-width="1.8" stroke-linejoin="round"/>
<path d="M1247.92,536.40L1259.02,558.60L1236.83,558.60Z" fill="#F79646" stroke="#F79646" stroke-width="1.8" stroke-linejoin="round"/>
<path d="M1296.47,536.40L1307.57,558.60L1285.38,558.60Z" fill="#F79646" stroke="#F79646" stroke-width="1.8" stroke-linejoin="round"/>
<path d="M1345.02,540.16L1356.12,562.36L1333.92,562.36Z" fill="#F79646" stroke="#F79646" stroke-width="1.8" stroke-linejoin="round"/>
<path d="M1393.57,540.16L1404.67,562.36L1382.47,562.36Z" fill="#F79646" stroke="#F79646" stroke-width="1.8" stroke-linejoin="round"/>
<polyline points="131.28,558.40 179.82,543.36 228.38,525.31 276.92,509.14 325.48,498.24 374.02,486.96 422.57,475.30 471.12,471.92 519.67,471.92 568.22,475.68 616.77,482.82 665.32,490.34 713.88,501.62 762.42,513.28 810.97,521.18 859.52,533.21 908.07,540.35 956.62,547.50 1005.17,554.64 1053.72,558.02 1102.28,562.16 1150.83,565.54 1199.38,569.30 1247.92,570.43 1296.47,573.06 1345.02,573.82 1393.57,573.82" fill="none" stroke="#A6B9DC" stroke-width="7.4" stroke-linecap="round" stroke-linejoin="round" stroke-dasharray="0 14.3"/>
<path d="M120.88,548.01L141.67,568.79M141.67,548.01L120.88,568.79" stroke="#A6B9DC" stroke-width="3.0" fill="none"/>
<path d="M169.43,532.97L190.22,553.75M190.22,532.97L169.43,553.75" stroke="#A6B9DC" stroke-width="3.0" fill="none"/>
<path d="M217.98,514.92L238.77,535.70M238.77,514.92L217.98,535.70" stroke="#A6B9DC" stroke-width="3.0" fill="none"/>
<path d="M266.53,498.75L287.32,519.54M287.32,498.75L266.53,519.54" stroke="#A6B9DC" stroke-width="3.0" fill="none"/>
<path d="M315.08,487.85L335.87,508.63M335.87,487.85L315.08,508.63" stroke="#A6B9DC" stroke-width="3.0" fill="none"/>
<path d="M363.63,476.57L384.42,497.35M384.42,476.57L363.63,497.35" stroke="#A6B9DC" stroke-width="3.0" fill="none"/>
<path d="M412.18,464.91L432.97,485.70M432.97,464.91L412.18,485.70" stroke="#A6B9DC" stroke-width="3.0" fill="none"/>
<path d="M460.73,461.53L481.52,482.31M481.52,461.53L460.73,482.31" stroke="#A6B9DC" stroke-width="3.0" fill="none"/>
<path d="M509.28,461.53L530.07,482.31M530.07,461.53L509.28,482.31" stroke="#A6B9DC" stroke-width="3.0" fill="none"/>
<path d="M557.83,465.29L578.62,486.07M578.62,465.29L557.83,486.07" stroke="#A6B9DC" stroke-width="3.0" fill="none"/>
<path d="M606.38,472.43L627.17,493.22M627.17,472.43L606.38,493.22" stroke="#A6B9DC" stroke-width="3.0" fill="none"/>
<path d="M654.93,479.95L675.72,500.74M675.72,479.95L654.93,500.74" stroke="#A6B9DC" stroke-width="3.0" fill="none"/>
<path d="M703.48,491.23L724.27,512.02M724.27,491.23L703.48,512.02" stroke="#A6B9DC" stroke-width="3.0" fill="none"/>
<path d="M752.03,502.89L772.82,523.67M772.82,502.89L752.03,523.67" stroke="#A6B9DC" stroke-width="3.0" fill="none"/>
<path d="M800.58,510.78L821.37,531.57M821.37,510.78L800.58,531.57" stroke="#A6B9DC" stroke-width="3.0" fill="none"/>
<path d="M849.13,522.82L869.92,543.60M869.92,522.82L849.13,543.60" stroke="#A6B9DC" stroke-width="3.0" fill="none"/>
<path d="M897.68,529.96L918.47,550.74M918.47,529.96L897.68,550.74" stroke="#A6B9DC" stroke-width="3.0" fill="none"/>
<path d="M946.23,537.10L967.02,557.89M967.02,537.10L946.23,557.89" stroke="#A6B9DC" stroke-width="3.0" fill="none"/>
<path d="M994.78,544.25L1015.57,565.03M1015.57,544.25L994.78,565.03" stroke="#A6B9DC" stroke-width="3.0" fill="none"/>
<path d="M1043.33,547.63L1064.12,568.42M1064.12,547.63L1043.33,568.42" stroke="#A6B9DC" stroke-width="3.0" fill="none"/>
<path d="M1091.88,551.77L1112.67,572.55M1112.67,551.77L1091.88,572.55" stroke="#A6B9DC" stroke-width="3.0" fill="none"/>
<path d="M1140.43,555.15L1161.22,575.94M1161.22,555.15L1140.43,575.94" stroke="#A6B9DC" stroke-width="3.0" fill="none"/>
<path d="M1188.98,558.91L1209.77,579.70M1209.77,558.91L1188.98,579.70" stroke="#A6B9DC" stroke-width="3.0" fill="none"/>
<path d="M1237.53,560.04L1258.32,580.82M1258.32,560.04L1237.53,580.82" stroke="#A6B9DC" stroke-width="3.0" fill="none"/>
<path d="M1286.08,562.67L1306.87,583.46M1306.87,562.67L1286.08,583.46" stroke="#A6B9DC" stroke-width="3.0" fill="none"/>
<path d="M1334.63,563.42L1355.42,584.21M1355.42,563.42L1334.63,584.21" stroke="#A6B9DC" stroke-width="3.0" fill="none"/>
<path d="M1383.18,563.42L1403.97,584.21M1403.97,563.42L1383.18,584.21" stroke="#A6B9DC" stroke-width="3.0" fill="none"/>
<polyline points="131.28,403.49 179.82,344.46 228.38,280.91 276.92,221.13 325.48,167.36 374.02,125.25 422.57,94.42 471.12,80.13 519.67,80.13 568.22,95.54 616.77,117.73 665.32,147.81 713.88,186.16 762.42,227.52 810.97,265.12 859.52,303.10 908.07,335.81 956.62,366.26 1005.17,384.31 1053.72,404.62 1102.28,411.01 1150.83,419.28 1199.38,426.42 1247.92,426.42 1296.47,430.18 1345.02,433.94 1393.57,433.94" fill="none" stroke="#D6A5A5" stroke-width="7.6" stroke-linecap="round" stroke-linejoin="round"/>
<path d="M120.88,393.10L141.67,413.88M141.67,393.10L120.88,413.88M131.28,392.28L131.28,414.70" stroke="#D6A5A5" stroke-width="3.0" fill="none"/>
<path d="M169.43,334.06L190.22,354.85M190.22,334.06L169.43,354.85M179.82,333.25L179.82,355.66" stroke="#D6A5A5" stroke-width="3.0" fill="none"/>
<path d="M217.98,270.52L238.77,291.30M238.77,270.52L217.98,291.30M228.38,269.70L228.38,292.12" stroke="#D6A5A5" stroke-width="3.0" fill="none"/>
<path d="M266.53,210.74L287.32,231.52M287.32,210.74L266.53,231.52M276.92,209.92L276.92,232.34" stroke="#D6A5A5" stroke-width="3.0" fill="none"/>
<path d="M315.08,156.97L335.87,177.75M335.87,156.97L315.08,177.75M325.48,156.15L325.48,178.57" stroke="#D6A5A5" stroke-width="3.0" fill="none"/>
<path d="M363.63,114.86L384.42,135.64M384.42,114.86L363.63,135.64M374.02,114.04L374.02,136.46" stroke="#D6A5A5" stroke-width="3.0" fill="none"/>
<path d="M412.18,84.02L432.97,104.81M432.97,84.02L412.18,104.81M422.57,83.21L422.57,105.62" stroke="#D6A5A5" stroke-width="3.0" fill="none"/>
<path d="M460.73,69.74L481.52,90.52M481.52,69.74L460.73,90.52M471.12,68.92L471.12,91.34" stroke="#D6A5A5" stroke-width="3.0" fill="none"/>
<path d="M509.28,69.74L530.07,90.52M530.07,69.74L509.28,90.52M519.67,68.92L519.67,91.34" stroke="#D6A5A5" stroke-width="3.0" fill="none"/>
<path d="M557.83,85.15L578.62,105.94M578.62,85.15L557.83,105.94M568.22,84.34L568.22,106.75" stroke="#D6A5A5" stroke-width="3.0" fill="none"/>
<path d="M606.38,107.34L627.17,128.12M627.17,107.34L606.38,128.12M616.77,106.52L616.77,128.94" stroke="#D6A5A5" stroke-width="3.0" fill="none"/>
<path d="M654.93,137.42L675.72,158.20M675.72,137.42L654.93,158.20M665.32,136.60L665.32,159.02" stroke="#D6A5A5" stroke-width="3.0" fill="none"/>
<path d="M703.48,175.77L724.27,196.55M724.27,175.77L703.48,196.55M713.88,174.95L713.88,197.37" stroke="#D6A5A5" stroke-width="3.0" fill="none"/>
<path d="M752.03,217.13L772.82,237.91M772.82,217.13L752.03,237.91M762.42,216.31L762.42,238.73" stroke="#D6A5A5" stroke-width="3.0" fill="none"/>
<path d="M800.58,254.73L821.37,275.51M821.37,254.73L800.58,275.51M810.97,253.91L810.97,276.33" stroke="#D6A5A5" stroke-width="3.0" fill="none"/>
<path d="M849.13,292.70L869.92,313.49M869.92,292.70L849.13,313.49M859.52,291.89L859.52,314.30" stroke="#D6A5A5" stroke-width="3.0" fill="none"/>
<path d="M897.68,325.42L918.47,346.20M918.47,325.42L897.68,346.20M908.07,324.60L908.07,347.02" stroke="#D6A5A5" stroke-width="3.0" fill="none"/>
<path d="M946.23,355.87L967.02,376.66M967.02,355.87L946.23,376.66M956.62,355.06L956.62,377.47" stroke="#D6A5A5" stroke-width="3.0" fill="none"/>
<path d="M994.78,373.92L1015.57,394.70M1015.57,373.92L994.78,394.70M1005.17,373.10L1005.17,395.52" stroke="#D6A5A5" stroke-width="3.0" fill="none"/>
<path d="M1043.33,394.22L1064.12,415.01M1064.12,394.22L1043.33,415.01M1053.72,393.41L1053.72,415.82" stroke="#D6A5A5" stroke-width="3.0" fill="none"/>
<path d="M1091.88,400.62L1112.67,421.40M1112.67,400.62L1091.88,421.40M1102.28,399.80L1102.28,422.22" stroke="#D6A5A5" stroke-width="3.0" fill="none"/>
<path d="M1140.43,408.89L1161.22,429.67M1161.22,408.89L1140.43,429.67M1150.83,408.07L1150.83,430.49" stroke="#D6A5A5" stroke-width="3.0" fill="none"/>
<path d="M1188.98,416.03L1209.77,436.82M1209.77,416.03L1188.98,436.82M1199.38,415.22L1199.38,437.63" stroke="#D6A5A5" stroke-width="3.0" fill="none"/>
<path d="M1237.53,416.03L1258.32,436.82M1258.32,416.03L1237.53,436.82M1247.92,415.22L1247.92,437.63" stroke="#D6A5A5" stroke-width="3.0" fill="none"/>
<path d="M1286.08,419.79L1306.87,440.58M1306.87,419.79L1286.08,440.58M1296.47,418.98L1296.47,441.39" stroke="#D6A5A5" stroke-width="3.0" fill="none"/>
<path d="M1334.63,423.55L1355.42,444.34M1355.42,423.55L1334.63,444.34M1345.02,422.74L1345.02,445.15" stroke="#D6A5A5" stroke-width="3.0" fill="none"/>
<path d="M1383.18,423.55L1403.97,444.34M1403.97,423.55L1383.18,444.34M1393.57,422.74L1393.57,445.15" stroke="#D6A5A5" stroke-width="3.0" fill="none"/>
<text x="75" y="627.40" text-anchor="end" class="ax">0</text>
<text x="75" y="552.20" text-anchor="end" class="ax">2</text>
<text x="75" y="477.00" text-anchor="end" class="ax">4</text>
<text x="75" y="401.80" text-anchor="end" class="ax">6</text>
<text x="75" y="326.60" text-anchor="end" class="ax">8</text>
<text x="75" y="251.40" text-anchor="end" class="ax">10</text>
<text x="75" y="176.20" text-anchor="end" class="ax">12</text>
<text x="75" y="101.00" text-anchor="end" class="ax">14</text>
<text x="75" y="25.80" text-anchor="end" class="ax">16</text>
<text transform="translate(144.47,638.5) rotate(-90)" text-anchor="end" class="ax">1990</text>
<text transform="translate(193.02,638.5) rotate(-90)" text-anchor="end" class="ax">1991</text>
<text transform="translate(241.57,638.5) rotate(-90)" text-anchor="end" class="ax">1992</text>
<text transform="translate(290.12,638.5) rotate(-90)" text-anchor="end" class="ax">1993</text>
<text transform="translate(338.68,638.5) rotate(-90)" text-anchor="end" class="ax">1994</text>
<text transform="translate(387.22,638.5) rotate(-90)" text-anchor="end" class="ax">1995</text>
<text transform="translate(435.77,638.5) rotate(-90)" text-anchor="end" class="ax">1996</text>
<text transform="translate(484.32,638.5) rotate(-90)" text-anchor="end" class="ax">1997</text>
<text transform="translate(532.88,638.5) rotate(-90)" text-anchor="end" class="ax">1998</text>
<text transform="translate(581.42,638.5) rotate(-90)" text-anchor="end" class="ax">1999</text>
<text transform="translate(629.98,638.5) rotate(-90)" text-anchor="end" class="ax">2000</text>
<text transform="translate(678.52,638.5) rotate(-90)" text-anchor="end" class="ax">2001</text>
<text transform="translate(727.08,638.5) rotate(-90)" text-anchor="end" class="ax">2002</text>
<text transform="translate(775.62,638.5) rotate(-90)" text-anchor="end" class="ax">2003</text>
<text transform="translate(824.17,638.5) rotate(-90)" text-anchor="end" class="ax">2004</text>
<text transform="translate(872.73,638.5) rotate(-90)" text-anchor="end" class="ax">2005</text>
<text transform="translate(921.27,638.5) rotate(-90)" text-anchor="end" class="ax">2006</text>
<text transform="translate(969.83,638.5) rotate(-90)" text-anchor="end" class="ax">2007</text>
<text transform="translate(1018.38,638.5) rotate(-90)" text-anchor="end" class="ax">2008</text>
<text transform="translate(1066.92,638.5) rotate(-90)" text-anchor="end" class="ax">2009</text>
<text transform="translate(1115.48,638.5) rotate(-90)" text-anchor="end" class="ax">2010</text>
<text transform="translate(1164.03,638.5) rotate(-90)" text-anchor="end" class="ax">2011</text>
<text transform="translate(1212.58,638.5) rotate(-90)" text-anchor="end" class="ax">2012</text>
<text transform="translate(1261.12,638.5) rotate(-90)" text-anchor="end" class="ax">2013</text>
<text transform="translate(1309.67,638.5) rotate(-90)" text-anchor="end" class="ax">2014</text>
<text transform="translate(1358.22,638.5) rotate(-90)" text-anchor="end" class="ax">2015</text>
<text transform="translate(1406.77,638.5) rotate(-90)" text-anchor="end" class="ax">2016</text>
<text transform="translate(21.8,495.6) rotate(-90)" class="ti" style="font-size:31.7px">HIV prevalence/100 people</text>
<text x="14.8" y="730.7" class="ti" style="font-size:38px">Year</text>
<line x1="185.0" y1="759.2" x2="264.5" y2="759.2" stroke="#799D3D" stroke-width="7.6" stroke-linecap="round"/>
<path d="M224.75,749.10L234.85,769.30L214.65,769.30Z" fill="#799D3D" stroke="#799D3D" stroke-width="1.8" stroke-linejoin="round"/>
<text x="273.5" y="768.9" class="lg">Afar</text>
<line x1="567.8" y1="759.2" x2="646.1" y2="759.2" stroke="#634A84" stroke-width="7.6" stroke-linecap="round"/>
<path d="M597.42,749.67L616.48,768.73M616.48,749.67L597.42,768.73" stroke="#634A84" stroke-width="3.0" fill="none"/>
<text x="655.5" y="768.9" class="lg">Amhara</text>
<line x1="950.0" y1="759.2" x2="1028.8" y2="759.2" stroke="#378AA3" stroke-width="7.6" stroke-linecap="round"/>
<path d="M979.87,749.67L998.93,768.73M998.93,749.67L979.87,768.73M989.40,748.93L989.40,769.47" stroke="#378AA3" stroke-width="3.0" fill="none"/>
<text x="1038.3" y="768.9" class="lg">Beneshangul Gumuz</text>
<line x1="185.0" y1="811.2" x2="264.5" y2="811.2" stroke="#CD7933" stroke-width="7.6" stroke-linecap="round"/>
<circle cx="224.75" cy="811.20" r="11.00" fill="#CD7933"/>
<text x="273.5" y="820.9" class="lg">Dire Dawa</text>
<line x1="567.8" y1="811.2" x2="646.1" y2="811.2" stroke="#4A7BBE" stroke-width="7.6" stroke-linecap="round"/>
<path d="M606.95,800.93L606.95,821.47M596.68,811.20L617.22,811.20" stroke="#4A7BBE" stroke-width="3.0" fill="none"/>
<text x="655.5" y="820.9" class="lg">Gambella</text>
<line x1="950.0" y1="811.2" x2="1028.8" y2="811.2" stroke="#BE4B48" stroke-width="7.6" stroke-linecap="round"/>

<text x="1038.3" y="820.9" class="lg">Harari</text>
<line x1="185.0" y1="862.9" x2="264.5" y2="862.9" stroke="#9BBB59" stroke-width="7.6" stroke-linecap="round"/>

<text x="273.5" y="872.6" class="lg">Oromiya</text>
<line x1="567.8" y1="862.9" x2="646.1" y2="862.9" stroke="#7E63A6" stroke-width="7.6" stroke-linecap="round"/>
<path d="M606.95,851.90L617.95,862.90L606.95,873.90L595.95,862.90Z" fill="#7E63A6"/>
<text x="655.5" y="872.6" class="lg">SNNPR</text>
<line x1="950.0" y1="862.9" x2="1028.8" y2="862.9" stroke="#4BACC6" stroke-width="7.6" stroke-linecap="round"/>
<rect x="978.40" y="851.90" width="22.00" height="22.00" rx="1.5" fill="#4BACC6"/>
<text x="1038.3" y="872.6" class="lg">Somali</text>
<line x1="185.0" y1="915.1" x2="264.5" y2="915.1" stroke="#F79646" stroke-width="7.6" stroke-linecap="round"/>
<path d="M224.75,905.00L234.85,925.20L214.65,925.20Z" fill="#F79646" stroke="#F79646" stroke-width="1.8" stroke-linejoin="round"/>
<text x="273.5" y="924.8" class="lg">Tigray</text>
<line x1="567.8" y1="915.1" x2="649.6" y2="915.1" stroke="#A6B9DC" stroke-width="7.4" stroke-linecap="round" stroke-dasharray="0 14.3"/>
<path d="M597.42,905.57L616.48,924.63M616.48,905.57L597.42,924.63" stroke="#A6B9DC" stroke-width="3.0" fill="none"/>
<text x="655.5" y="924.8" class="lg">National</text>
<line x1="950.0" y1="915.1" x2="1028.8" y2="915.1" stroke="#D6A5A5" stroke-width="7.6" stroke-linecap="round"/>
<path d="M979.87,905.57L998.93,924.63M998.93,905.57L979.87,924.63M989.40,904.83L989.40,925.37" stroke="#D6A5A5" stroke-width="3.0" fill="none"/>
<text x="1038.3" y="924.8" class="lg">Addis Ababa</text>
</svg>
</body></html>
